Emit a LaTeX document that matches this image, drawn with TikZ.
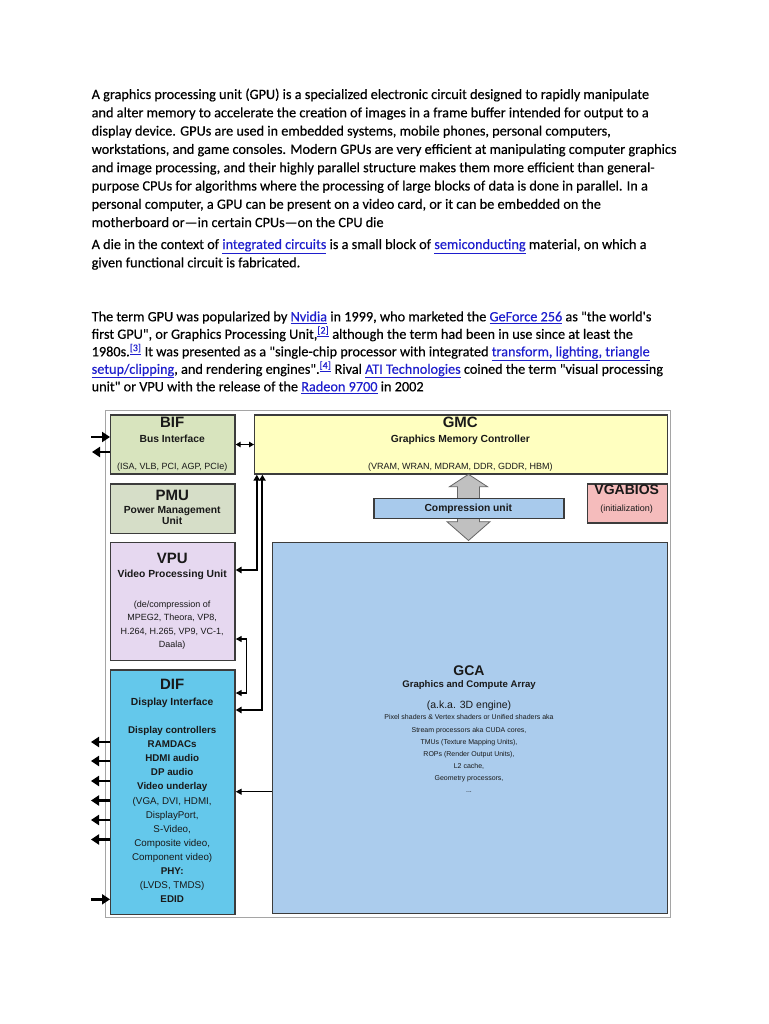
\documentclass[tikz,border=0pt]{standalone}
\usepackage{fontspec}
\setmainfont{Carlito}[Ligatures=TeXOff, FakeBold=0.35]
\newfontfamily\arialf{Liberation Sans}
\usetikzlibrary{arrows.meta}
\definecolor{linkblue}{RGB}{30,30,205}
\definecolor{boxgray}{RGB}{60,60,60}
\definecolor{framegray}{RGB}{165,165,165}
\definecolor{bifc}{RGB}{216,228,190}
\definecolor{pmuc}{RGB}{214,222,200}
\definecolor{vpuc}{RGB}{230,216,240}
\definecolor{difc}{RGB}{100,200,235}
\definecolor{gmcc}{RGB}{255,255,192}
\definecolor{compc}{RGB}{168,202,236}
\definecolor{vgac}{RGB}{245,188,188}
\definecolor{gcac}{RGB}{171,204,237}
\definecolor{bigarr}{RGB}{192,192,192}
\definecolor{dtext}{RGB}{25,25,25}
\newcommand{\lnk}[1]{{\color{linkblue}\underline{#1}}}
\begin{document}
\begin{tikzpicture}[x=1pt,y=-1pt,
  para/.style={anchor=base west, inner sep=0, text=black, font=\fontsize{14.25}{17}\selectfont},
  box/.style={draw=boxgray, line width=1.4pt, inner sep=0, anchor=north west},
  ttl/.style={anchor=base, inner sep=0, text=dtext, font=\arialf\bfseries\fontsize{15}{18}\selectfont},
  sub/.style={anchor=base, inner sep=0, text=dtext, font=\arialf\bfseries\fontsize{10.3}{12}\selectfont},
  det/.style={anchor=base, inner sep=0, text=dtext, font=\arialf\fontsize{9}{11}\selectfont},
  difb/.style={anchor=base, inner sep=0, text=dtext, font=\arialf\bfseries\fontsize{9.8}{11}\selectfont},
  difr/.style={anchor=base, inner sep=0, text=dtext, font=\arialf\fontsize{9.8}{11}\selectfont},
  tinyt/.style={anchor=base, inner sep=0, text=dtext, font=\arialf\fontsize{7}{8}\selectfont},
  ext/.style={line width=2.6pt, -{Triangle[length=8pt,width=10pt]}},
  bus/.style={line width=2pt, {Triangle[length=6pt,width=6.5pt]}-{Triangle[length=6pt,width=6.5pt]}},
  thinbus/.style={line width=1.3pt, {Triangle[length=6pt,width=6pt]}-{Triangle[length=6pt,width=6pt]}},
  onearr/.style={line width=1.3pt, -{Triangle[length=6pt,width=6pt]}},
  bigarrow/.style={draw=gray!80!black, fill=bigarr, line width=0.8pt}
]
\useasboundingbox[fill=white] (0,0) rectangle (768,1024);

% ---------- paragraph 1
\node[para] (p1a) at (91.5,99.0) {A graphics processing unit (GPU) is a specialized electronic circuit designed to rapidly manipulate};
\node[para] (p1b) at (91.5,117.3) {and alter memory to accelerate the creation of images in a frame buffer intended for output to a};
\node[para] (p1c) at (91.5,135.6) {display device. GPUs are used in embedded systems, mobile phones, personal computers,};
\node[para] (p1d) at (91.5,153.9) {workstations, and game consoles. Modern GPUs are very efficient at manipulating computer graphics};
\node[para] (p1e) at (91.5,172.2) {and image processing, and their highly parallel structure makes them more efficient than general-};
\node[para] (p1f) at (91.5,190.5) {purpose CPUs for algorithms where the processing of large blocks of data is done in parallel. In a};
\node[para] (p1g) at (91.5,208.8) {personal computer, a GPU can be present on a video card, or it can be embedded on the};
\node[para] (p1h) at (91.5,227.1) {motherboard or—in certain CPUs—on the CPU die};
% ---------- paragraph 2
\node[para] (p2a) at (91.5,249.0) {A die in the context of \lnk{integrated circuits} is a small block of \lnk{semiconducting} material, on which a};
\node[para] (p2b) at (91.5,267.3) {given functional circuit is fabricated.};
% ---------- paragraph 3
\node[para] (p3a) at (91.5,321.3) {The term GPU was popularized by \lnk{Nvidia} in 1999, who marketed the \lnk{GeForce 256} as "the world's};
\node[para] (p3b) at (91.5,338.8) {first GPU", or Graphics Processing Unit,\textsuperscript{\lnk{[2]}} although the term had been in use since at least the};
\node[para] (p3c) at (91.5,356.3) {1980s.\textsuperscript{\lnk{[3]}} It was presented as a "single-chip processor with integrated \lnk{transform, lighting, triangle}};
\node[para] (p3d) at (91.5,373.8) {\lnk{setup/clipping}, and rendering engines".\textsuperscript{\lnk{[4]}} Rival \lnk{ATI Technologies} coined the term "visual processing};
\node[para] (p3e) at (91.5,391.3) {unit" or VPU with the release of the \lnk{Radeon 9700} in 2002};

% ---------- diagram frame
\draw[framegray, line width=0.9pt] (105,410) rectangle (670,917);

% ---------- boxes
\node[box, fill=bifc, minimum width=124.3, minimum height=59] (bif) at (110,414.3) {};
\node[box, fill=pmuc, minimum width=124.3, minimum height=49.4] (pmu) at (110,483.3) {};
\node[box, fill=vpuc, minimum width=124.3, minimum height=118.3] (vpu) at (110,541.7) {};
\node[box, fill=difc, minimum width=124.3, minimum height=244.7] (dif) at (110,669.3) {};
\node[box, fill=gmcc, minimum width=412.7, minimum height=59] (gmc) at (254,414.3) {};
\node[box, fill=vgac, minimum width=80, minimum height=39] (vga) at (586.7,483.3) {};
\node[box, fill=gcac, minimum width=395.5, minimum height=371.3] (gca) at (271.5,541.7) {};

% ---------- big gray arrows
\draw[bigarrow] (468.5,474.3) -- (487.5,486.7) -- (479.5,486.7) -- (479.5,498.5) -- (457.5,498.5) -- (457.5,486.7) -- (449.5,486.7) -- cycle;
\draw[bigarrow] (457.5,517) -- (479.5,517) -- (479.5,521.7) -- (490,521.7) -- (468.5,540.5) -- (447,521.7) -- (457.5,521.7) -- cycle;
\node[box, fill=compc, minimum width=190, minimum height=20] (comp) at (373.3,497.7) {};

% ---------- BIF text
\node[ttl] (bift) at (172.2,427) {BIF};
\node[sub] (bifs) at (172.2,442) {Bus Interface};
\node[det] (bifd) at (172.2,469.5) {(ISA, VLB, PCI, AGP, PCIe)};
% ---------- PMU text
\node[ttl] (pmut) at (172.2,500.5) {PMU};
\node[sub] (pmus) at (172.2,513) {Power Management};
\node[sub] (pmuu) at (172.2,524.5) {Unit};
% ---------- VPU text
\node[ttl] (vput) at (172.2,563) {VPU};
\node[sub] (vpus) at (172.2,577) {Video Processing Unit};
\node[det] (vpua) at (172.2,607.5) {(de/compression of};
\node[det] (vpub) at (172.2,620.7) {MPEG2, Theora, VP8,};
\node[det] (vpuc) at (172.2,634) {H.264, H.265, VP9, VC-1,};
\node[det] (vpud) at (172.2,647.2) {Daala)};
% ---------- DIF text
\node[ttl] (dift) at (172.2,689) {DIF};
\node[sub] (difs) at (172.2,705) {Display Interface};
\node[difb] (dif1) at (172.2,733.5) {Display controllers};
\node[difb] (dif2) at (172.2,747.6) {RAMDACs};
\node[difb] (dif3) at (172.2,761.7) {HDMI audio};
\node[difb] (dif4) at (172.2,775.8) {DP audio};
\node[difb] (dif5) at (172.2,789.9) {Video underlay};
\node[difr] (dif6) at (172.2,804.0) {(VGA, DVI, HDMI,};
\node[difr] (dif7) at (172.2,818.1) {DisplayPort,};
\node[difr] (dif8) at (172.2,832.2) {S-Video,};
\node[difr] (dif9) at (172.2,846.3) {Composite video,};
\node[difr] (dif10) at (172.2,860.4) {Component video)};
\node[difb] (dif11) at (172.2,874.5) {PHY:};
\node[difr] (dif12) at (172.2,888.6) {(LVDS, TMDS)};
\node[difb] (dif13) at (172.2,902.7) {EDID};
% ---------- GMC text
\node[ttl] (gmct) at (460.3,427) {GMC};
\node[sub] (gmcs) at (460.3,442) {Graphics Memory Controller};
\node[det] (gmcd) at (460.3,469.5) {(VRAM, WRAN, MDRAM, DDR, GDDR, HBM)};
% ---------- compression / VGABIOS
\node[sub] (compt) at (468.3,511.5) {Compression unit};
\node[ttl, font=\arialf\bfseries\fontsize{14}{16}\selectfont] (vgat) at (626.7,494.5) {VGABIOS};
\node[det] (vgad) at (626.7,511.5) {(initialization)};
% ---------- GCA text
\node[ttl, font=\arialf\bfseries\fontsize{14}{16}\selectfont] (gcat) at (469,675) {GCA};
\node[sub, font=\arialf\bfseries\fontsize{9.6}{11}\selectfont] (gcas) at (469,687.5) {Graphics and Compute Array};
\node[det, font=\arialf\fontsize{10.5}{12}\selectfont] (gcaa) at (469,708.7) {(a.k.a. 3D engine)};
\node[tinyt] (gca1) at (469,719.6) {Pixel shaders \& Vertex shaders or Unified shaders aka};
\node[tinyt] (gca2) at (469,732.2) {Stream processors aka CUDA cores,};
\node[tinyt] (gca3) at (469,744.0) {TMUs (Texture Mapping Units),};
\node[tinyt] (gca4) at (469,756.5) {ROPs (Render Output Units),};
\node[tinyt] (gca5) at (469,768.3) {L2 cache,};
\node[tinyt] (gca6) at (469,780.0) {Geometry processors,};
\node[tinyt] (gca7) at (469,792.0) {...};

% ---------- connectors
\coordinate (bifin) at (91,437);
\coordinate (bifout) at (92,452);
\draw[ext] (bifin) -- (bifin -| bif.west);
\draw[ext] (bifout -| bif.west) -- (bifout);
\draw[line width=1.4pt, {Triangle[length=5pt,width=5.5pt]}-{Triangle[length=5pt,width=5.5pt]}] (bif) -- (gmc);

\coordinate (b1) at (256.8,570);
\coordinate (b2) at (262.4,710);
\draw[bus] (b1 -| vpu.east) -- (b1) -- (b1 |- gmc.south);
\draw[bus] (b2 -| dif.east) -- (b2) -- (b2 |- gmc.south);
\coordinate (v1) at (246.7,639);
\coordinate (v2) at (246.7,693);
\draw[thinbus] (v1 -| vpu.east) -- (v1) -- (v2) -- (v2 -| dif.east);
\coordinate (g1) at (250,791.7);
\draw[onearr] (g1 -| gca.west) -- (g1 -| dif.east);

\foreach \yy/\nm in {742/o1,761/o2,781/o3,800.5/o4,820/o5,839.5/o6}{
  \coordinate (\nm) at (91,\yy);
  \draw[ext] (\nm -| dif.west) -- (\nm);
}
\coordinate (edid) at (91,899.3);
\draw[ext] (edid) -- (edid -| dif.west);
\end{tikzpicture}
\end{document}
